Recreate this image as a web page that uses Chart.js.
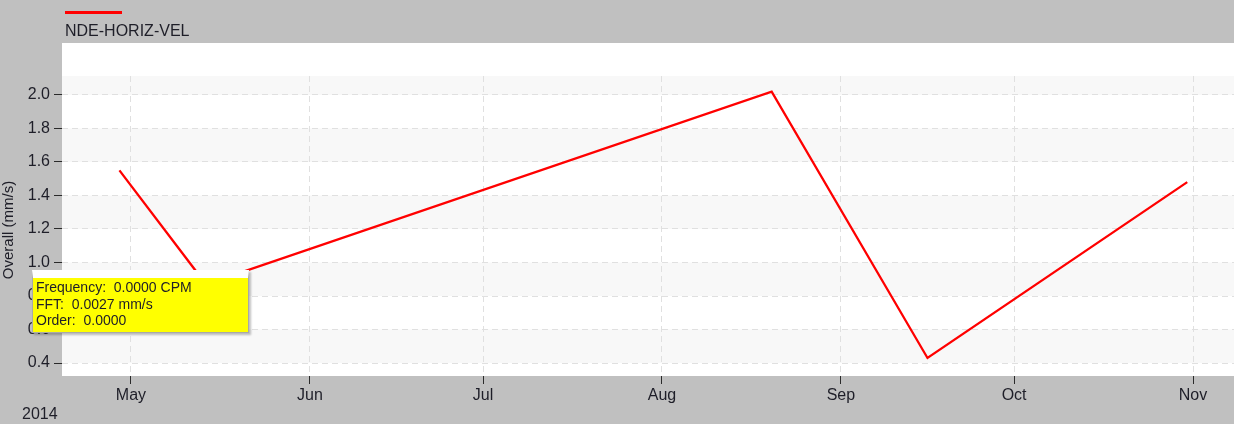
<!DOCTYPE html>
<html>
<head>
<meta charset="utf-8">
<script src="https://cdn.jsdelivr.net/npm/chart.js@4"></script>
<style>
  html, body { margin: 0; padding: 0; background: #c0c0c0; }
  #wrap { position: relative; width: 1234px; height: 424px; }
  #tip {
    position: absolute; left: 32px; top: 270px; width: 212px; height: 53px;
    background: #ffff00; border: 1px solid #a8a8a8; border-top: 8px solid #fff;
    box-shadow: 2px 2px 2px rgba(0,0,0,0.25);
    font: 14px "Liberation Sans", Arial, sans-serif; color: #1e1e28;
    padding: 1px 0 0 3px; box-sizing: content-box; line-height: 16.5px;
  }
</style>
</head>
<body>
<div id="wrap">
  <canvas id="myChart" width="1234" height="424"></canvas>
  <div id="tip">Frequency:&nbsp; 0.0000 CPM<br>FFT:&nbsp; 0.0027 mm/s<br>Order:&nbsp; 0.0000</div>
</div>
<script>
// readings (date, overall mm/s)
const dates = ["2014-04-29", "2014-05-14", "2014-08-20", "2014-09-16", "2014-10-31"];
const values = [1.55, 0.87, 2.02, 0.43, 1.48];
const monthTicks = ["2014-05-01", "2014-06-01", "2014-07-01", "2014-08-01", "2014-09-01", "2014-10-01", "2014-11-01"];
const monthLabels = ["May", "Jun", "Jul", "Aug", "Sep", "Oct", "Nov"];
const yTicks = [0.4, 0.6, 0.8, 1.0, 1.2, 1.4, 1.6, 1.8, 2.0];
const seriesName = "NDE-HORIZ-VEL";
const yTitle = "Overall (mm/s)";
const yearLabel = "2014";

const FONT = '"Liberation Sans", Arial, sans-serif';
const base = Date.UTC(2014, 4, 1);

function toDay(s) {
  let p = s.split("-").map(Number);
  return (Date.UTC(p[0], p[1] - 1, p[2]) - base) / 86400000;
}

let points = dates.map((d, i) => ({ x: toDay(d), y: values[i] }));
let tickDays = monthTicks.map(toDay);

const backdrop = {
  id: "backdrop",
  beforeDraw(chart) {
    let ctx = chart.ctx;
    let area = chart.chartArea;
    let y = chart.scales.y;
    ctx.save();
    ctx.fillStyle = "#c0c0c0";
    ctx.fillRect(0, 0, chart.width, chart.height);
    ctx.fillStyle = "#ffffff";
    ctx.fillRect(area.left, 43, area.right - area.left, area.bottom - 43);
    // alternating bands
    ctx.fillStyle = "#f8f8f8";
    let edges = [y.min].concat(yTicks).concat([y.max]);
    for (let i = 0; i < edges.length - 1; i++) {
      if (i % 2 === 1) {
        let top = y.getPixelForValue(edges[i + 1]);
        let bot = y.getPixelForValue(edges[i]);
        ctx.fillRect(area.left, top, area.right - area.left, bot - top);
      }
    }
    ctx.restore();
  },
  afterDraw(chart) {
    let ctx = chart.ctx;
    ctx.save();
    // legend
    ctx.strokeStyle = "#ff0000";
    ctx.lineWidth = 3;
    ctx.beginPath();
    ctx.moveTo(65, 12.5);
    ctx.lineTo(122, 12.5);
    ctx.stroke();
    ctx.fillStyle = "#1e1e28";
    ctx.font = "16px " + FONT;
    ctx.textBaseline = "alphabetic";
    ctx.fillText(seriesName, 65, 36);
    // year
    ctx.fillText(yearLabel, 22, 419);
    // y title
    ctx.translate(13, 230);
    ctx.rotate(-Math.PI / 2);
    ctx.textAlign = "center";
    ctx.font = "15px " + FONT;
    ctx.fillText(yTitle, 0, 0);
    ctx.restore();
  },
};

let ctx = document.getElementById("myChart").getContext("2d");

let myChart = new Chart(ctx, {
  type: "line",
  data: {
    datasets: [
      {
        label: seriesName,
        data: points,
        borderColor: "#ff0000",
        borderWidth: 2.3,
        pointRadius: 0,
        tension: 0,
        fill: false,
      },
    ],
  },
  options: {
    responsive: false,
    animation: false,
    layout: { padding: { top: 76, left: 0, right: 0, bottom: 0 } },
    plugins: { legend: { display: false }, tooltip: { enabled: false } },
    scales: {
      x: {
        type: "linear",
        min: -11.95,
        max: 191.1,
        afterBuildTicks: (scale) => {
          scale.ticks = tickDays.map((v) => ({ value: v }));
        },
        afterFit: (scale) => {
          scale.height = 48;
        },
        ticks: {
          autoSkip: false,
          maxRotation: 0,
          padding: 2,
          color: "#1e1e28",
          font: { family: FONT, size: 16 },
          callback: (v) => monthLabels[tickDays.indexOf(v)] || "",
        },
        grid: {
          color: "#e0e0e0",
          tickColor: "#2a2a2a",
          tickLength: 8,
          tickBorderDash: [],
        },
        border: { display: false, dash: [6, 4] },
      },
      y: {
        min: 0.3224,
        max: 2.1134,
        afterBuildTicks: (scale) => {
          scale.ticks = yTicks.map((v) => ({ value: v }));
        },
        afterFit: (scale) => {
          scale.width = 62;
        },
        ticks: {
          padding: 4,
          color: "#1e1e28",
          font: { family: FONT, size: 16 },
          callback: (v) => Number(v).toFixed(1),
        },
        grid: {
          color: "#e0e0e0",
          tickColor: "#2a2a2a",
          tickLength: 8,
          tickBorderDash: [],
        },
        border: { display: false, dash: [6, 4] },
      },
    },
  },
  plugins: [backdrop],
});
</script>
</body>
</html>
